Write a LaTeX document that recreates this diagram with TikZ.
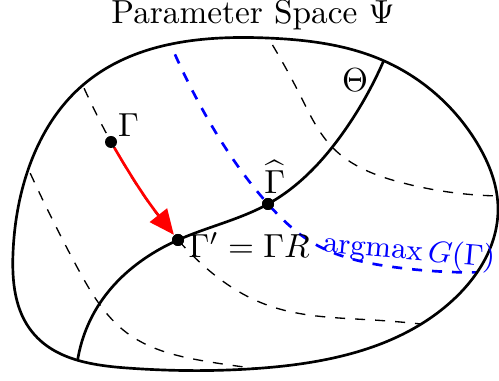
\documentclass[tikz,border=0pt]{standalone}
\usepackage{amsmath,amssymb}
\usepackage{xcolor}
\usetikzlibrary{arrows.meta,positioning,calc,hobby}
\definecolor{optBlue}{RGB}{0,0,255}
\definecolor{stepRed}{RGB}{255,0,0}
\tikzset{
  dot/.style={circle,fill=black,inner sep=0pt,minimum size=3.6pt},
  lbl/.style={inner sep=1pt},
  orbit/.style={dashed,thin},
}
\newcommand\blobpath{(83,85) .. (267,38) .. (382,60) .. (477,143) .. (498,210)
  .. (453,300) .. (263,368) .. (127,368) .. (33,333) .. (13,253) .. (28,170)}

\begin{document}
\begin{tikzpicture}[x=0.3pt,y=-0.3pt]
      \useasboundingbox (0,0) rectangle (499,381);
      \node (title) at (253,15) {Parameter Space $\Psi$};
      \node[dot] (gamma)    at (111,142) {};
      \node[dot] (gammap)   at (178,240) {};
      \node[dot] (gammahat) at (268,204) {};
      \begin{scope}
        \clip[use Hobby shortcut,closed=true] \blobpath;
        % orbits
        \draw[orbit,use Hobby shortcut] (262,28) .. (300,95) .. (333,148) .. (403,183) .. (510,196);
        \draw[orbit,use Hobby shortcut] (76,70) .. (gamma) .. (gammap) .. (267,305) .. (373,320) .. (430,325);
        \draw[orbit,use Hobby shortcut] (22,155) .. (77,267) .. (127,333) .. (210,362) .. (280,371);
        % Theta
        \draw[thick,use Hobby shortcut] (76,375) .. (100,303) .. (gammap) .. (gammahat) .. (345,130) .. (392,40);
        \draw[optBlue,thick,dashed,use Hobby shortcut] (167,36) .. (200,105) .. (gammahat) .. (313,243) .. (393,267) .. (495,272);
      \end{scope}
      \draw[thick,use Hobby shortcut,closed=true] \blobpath;
      \node[dot] at (gammahat) {};
      \node[dot] at (gammap) {};
      \draw[stepRed,thick,-{Triangle[length=7.5pt,width=6.5pt]}] (gamma) to[bend right=4] (gammap);
      \node[lbl,above right=-1pt and -0.5pt of gamma] (gammalbl) {$\Gamma$};
      \node[lbl,right=0pt of gammap,yshift=-1.5pt] (gammaplbl) {$\Gamma' = \Gamma R$};
      \node[lbl,above=0pt of gammahat,xshift=2pt] (gammahatlbl) {$\widehat{\Gamma}$};
      \node (thetalbl) at (355,80) {$\Theta$};
      \node[optBlue,rotate=-5,font=\small] (argmaxlbl) at (409,252) {$\mathrm{argmax}\,G(\Gamma)$};
\end{tikzpicture}
\end{document}
